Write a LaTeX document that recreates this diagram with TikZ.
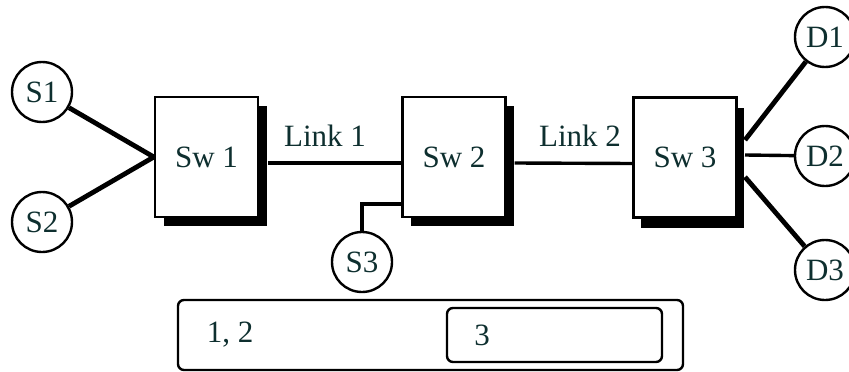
\documentclass[tikz,border=0pt]{standalone}
\usepackage{fontspec}
\setmainfont{Liberation Serif}
\usetikzlibrary{calc}
\definecolor{ink}{HTML}{0E2F2F}
\begin{document}
\begin{tikzpicture}[x=1pt,y=-1pt,
  lbl/.style={font=\fontsize{31}{33}\selectfont, text=ink},
  host/.style={circle, draw=black, line width=2.4pt, minimum size=60pt, inner sep=0pt, lbl, fill=white},
  swbox/.style={draw=black, line width=2.4pt, fill=white, minimum width=103pt, minimum height=120pt, inner sep=0pt, lbl},
  shadowbox/.style={fill=black, minimum width=103pt, minimum height=120pt, inner sep=0pt},
  wire/.style={line width=4.8pt, black},
  thinwire/.style={line width=3.4pt, black},
  frame/.style={draw=black, line width=2.4pt, rounded corners=6pt}]
\useasboundingbox (0,0) rectangle (849,372);
% shadows
\node[shadowbox] at (215,166) {};
\node[shadowbox] at (462,166) {};
\node[shadowbox] at (692,168) {};
% switches
\node[swbox] (sw1) at (206.5,157) {Sw 1};
\node[swbox] (sw2) at (454,157) {Sw 2};
\node[swbox] (sw3) at (685,157.5) {Sw 3};
% hosts
\node[host] (s1) at (42,92) {S1};
\node[host] (s2) at (42,222) {S2};
\node[host] (s3) at (362,262) {S3};
\node[host] (d1) at (825,37) {D1};
\node[host] (d2) at (825,156) {D2};
\node[host] (d3) at (825,270) {D3};
% connectors
\coordinate (j1) at (sw1.west);
\draw[wire] (s1) -- (j1);
\draw[wire] (s2) -- (j1);
\draw[thinwire] ($(sw1.east)+(9,6)$) -- ($(sw2.west)+(0,6)$);
\node[lbl] (l1) at (325,136) {Link 1};
\draw[thinwire] ($(sw2.east)+(8,6)$) -- ($(sw3.west)+(0,6)$);
\node[lbl] (l2) at (580,136) {Link 2};
\draw[thinwire] ($(sw2.west)+(0,47)$) -| (s3);
\coordinate (o1) at (745,140);
\coordinate (o2) at (745,155);
\coordinate (o3) at (745,177);
\draw[wire] (o1) -- (d1);
\draw[thinwire] (o2) -- (d2);
\draw[wire] (o3) -- (d3);
% bottom bar
\node[frame, minimum width=505pt, minimum height=70pt, inner sep=0pt] (bar) at (430.5,335) {};
\node[frame, minimum width=215pt, minimum height=54pt, inner sep=0pt] (inner) at (554.5,335) {};
\node[lbl] (t12) at (230,335) {1, 2};
\node[lbl] (t3) at (482,335) {3};
\end{tikzpicture}
\end{document}
